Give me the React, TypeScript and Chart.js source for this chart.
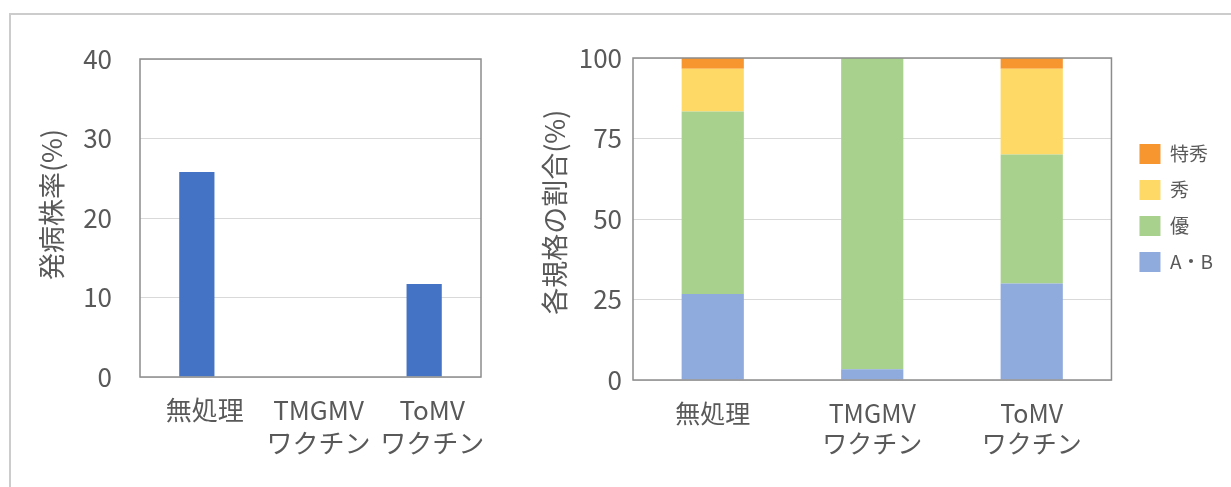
import React, { useEffect, useRef } from "react";
import { Chart, registerables } from "chart.js";

Chart.register(...registerables);

// ---- data ----
const categories: (string | string[])[] = ["無処理", ["TMGMV", "ワクチン"], ["ToMV", "ワクチン"]];
const incidence = [25.8, 0, 11.7]; // 発病株率(%)
const incidenceTicks = { min: 0, max: 40, step: 10 };

const seriesNames = ["A・B", "優", "秀", "特秀"];
const gradeAB = [26.7, 3.3, 30.0];
const gradeYu = [56.7, 96.7, 40.0];
const gradeShu = [13.3, 0, 26.7];
const gradeTokushu = [3.3, 0, 3.3];
const shareTicks = { min: 0, max: 100, step: 25 };

const leftTitle = "　発病株率(%)";
const rightTitle = "\u2002各規格の割合(%)";

// ---- styles ----
const FONT = '"Noto Sans CJK JP", "Noto Sans", sans-serif';
const TEXT = "#595959";
const GRID = "#d9d9d9";
const FRAME = "#8c8c8c";
const BAR_BLUE = "#4472C4";
const COLORS = ["#8FAADC", "#A9D18E", "#FFD966", "#F7952F"];

const RIGHT_TOP = -46; // page y of right canvas
const RIGHT_H = 508;

const framePlugin = {
  id: "plotFrame",
  afterDatasetsDraw(chart: any) {
    const { ctx, chartArea: a } = chart;
    ctx.save();
    ctx.strokeStyle = FRAME;
    ctx.lineWidth = 1.5;
    ctx.strokeRect(a.left, a.top, a.right - a.left, a.bottom - a.top);
    ctx.restore();
  },
};

function LeftChart() {
  const ref = useRef<HTMLCanvasElement>(null);
  useEffect(() => {
    const chart = new Chart(ref.current!, {
      type: "bar",
      data: {
        labels: categories as any,
        datasets: [
          {
            data: incidence,
            backgroundColor: BAR_BLUE,
            borderWidth: 0,
            barPercentage: 0.31,
            categoryPercentage: 1,
          },
        ],
      },
      options: {
        responsive: false,
        animation: false,
        layout: { padding: { top: 59, right: 39, left: 0, bottom: 0 } },
        plugins: { legend: { display: false }, tooltip: { enabled: false } },
        scales: {
          x: {
            grid: { display: false },
            border: { display: false },
            ticks: {
              color: TEXT,
              font: { family: FONT, size: 26, lineHeight: 1.25 },
              padding: 9,
              labelOffset: 8,
              maxRotation: 0,
              autoSkip: false,
            },
            afterFit: (s: any) => {
              s.height = 110;
            },
          },
          y: {
            min: incidenceTicks.min,
            max: incidenceTicks.max,
            ticks: {
              stepSize: incidenceTicks.step,
              color: TEXT,
              font: { family: FONT, size: 26 },
              padding: 28,
            },
            grid: { color: GRID, drawTicks: false, lineWidth: 1 },
            border: { display: false },
            title: {
              display: true,
              text: leftTitle,
              color: TEXT,
              font: { family: FONT, size: 27, lineHeight: 1.2 },
              padding: { top: 36, bottom: 0 },
            },
            afterFit: (s: any) => {
              s.width = 140;
            },
          },
        },
      },
      plugins: [framePlugin],
    } as any);
    return () => chart.destroy();
  }, []);
  return (
    <canvas
      ref={ref}
      width={520}
      height={487}
      style={{ position: "absolute", left: 0, top: 0, width: 520, height: 487 }}
    />
  );
}

function RightChart() {
  const ref = useRef<HTMLCanvasElement>(null);
  useEffect(() => {
    const values = [gradeAB, gradeYu, gradeShu, gradeTokushu];
    const chart = new Chart(ref.current!, {
      type: "bar",
      data: {
        labels: categories as any,
        datasets: values.map((v, i) => ({
          label: seriesNames[i],
          data: v,
          backgroundColor: COLORS[i],
          borderWidth: 0,
          barPercentage: 0.39,
          categoryPercentage: 1,
        })),
      },
      options: {
        responsive: false,
        animation: false,
        layout: { padding: { top: 0, right: 8, left: 0, bottom: 0 } },
        plugins: {
          tooltip: { enabled: false },
          title: {
            display: true,
            text: "",
            font: { family: FONT, size: 10, lineHeight: 1 },
            padding: { top: 58 - RIGHT_TOP - 10, bottom: 0 },
          },
          legend: {
            position: "right",
            reverse: true,
            labels: {
              boxWidth: 21,
              boxHeight: 20,
              padding: 16,
              color: TEXT,
              font: { family: FONT, size: 19 },
            },
          },
        },
        scales: {
          x: {
            stacked: true,
            grid: { display: false },
            border: { display: false },
            ticks: {
              color: TEXT,
              font: { family: FONT, size: 25, lineHeight: 1.22 },
              padding: 10,
              maxRotation: 0,
              autoSkip: false,
            },
            afterFit: (s: any) => {
              s.height = RIGHT_H + RIGHT_TOP - 380;
            },
          },
          y: {
            stacked: true,
            min: shareTicks.min,
            max: shareTicks.max,
            ticks: {
              stepSize: shareTicks.step,
              color: TEXT,
              font: { family: FONT, size: 26 },
              padding: 11,
            },
            grid: { color: GRID, drawTicks: false, lineWidth: 1 },
            border: { display: false },
            title: {
              display: true,
              text: rightTitle,
              color: TEXT,
              font: { family: FONT, size: 27, lineHeight: 1.2 },
              padding: { top: 19, bottom: 0 },
            },
            afterFit: (s: any) => {
              s.width = 113;
            },
          },
          gap: {
            position: "right",
            display: true,
            ticks: { display: false },
            grid: { display: false },
            border: { display: false },
            afterFit: (s: any) => {
              s.width = 12;
            },
          },
        },
      },
      plugins: [framePlugin],
    } as any);
    return () => chart.destroy();
  }, []);
  return (
    <canvas
      ref={ref}
      width={711}
      height={RIGHT_H}
      style={{ position: "absolute", left: 520, top: RIGHT_TOP, width: 711, height: RIGHT_H }}
    />
  );
}

export default function App() {
  return (
    <div
      style={{
        position: "fixed",
        left: 0,
        top: 0,
        width: 1231,
        height: 487,
        background: "#ffffff",
        overflow: "hidden",
      }}
    >
      <div
        style={{
          position: "absolute",
          left: 9,
          top: 13,
          width: 1300,
          height: 600,
          borderLeft: "2px solid #cccccc",
          borderTop: "2px solid #cccccc",
        }}
      />
      <LeftChart />
      <RightChart />
    </div>
  );
}
